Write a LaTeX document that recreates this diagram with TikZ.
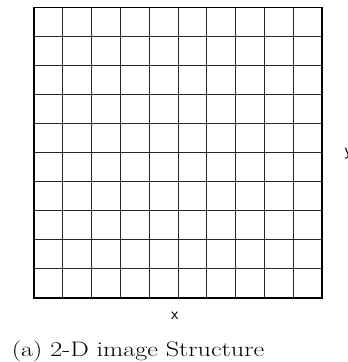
\documentclass[tikz,border=0pt]{standalone}
\begin{document}
\begin{tikzpicture}[x=1pt,y=-1pt,
  gridline/.style={line width=0.8pt,black!85},
  frameline/.style={line width=1.6pt,black},
  axislabel/.style={font=\fontsize{17}{20}\selectfont\sffamily,inner sep=0pt},
  captionlabel/.style={font=\fontsize{21}{25}\selectfont,inner sep=0pt,xscale=1.245}]
\useasboundingbox (0,0) rectangle (348,362);
\coordinate (tl) at (34,7.3);
\coordinate (br) at (322,297.7);
\foreach \i in {1,...,9} {
  \draw[gridline] ({34+\i*28.8},7.3) -- ({34+\i*28.8},297.7);
  \draw[gridline] (34,{7.3+\i*29.04}) -- (322,{7.3+\i*29.04});
}
\draw[frameline] (tl) rectangle (br);
\node[axislabel] (xlab) at (174.7,315.5) {x};
\node[axislabel,anchor=west] (ylab) at (344.5,154) {y};
\node[captionlabel,anchor=base west] (cap) at (11.7,356.7) {(a) 2-D image Structure};
\end{tikzpicture}
\end{document}
